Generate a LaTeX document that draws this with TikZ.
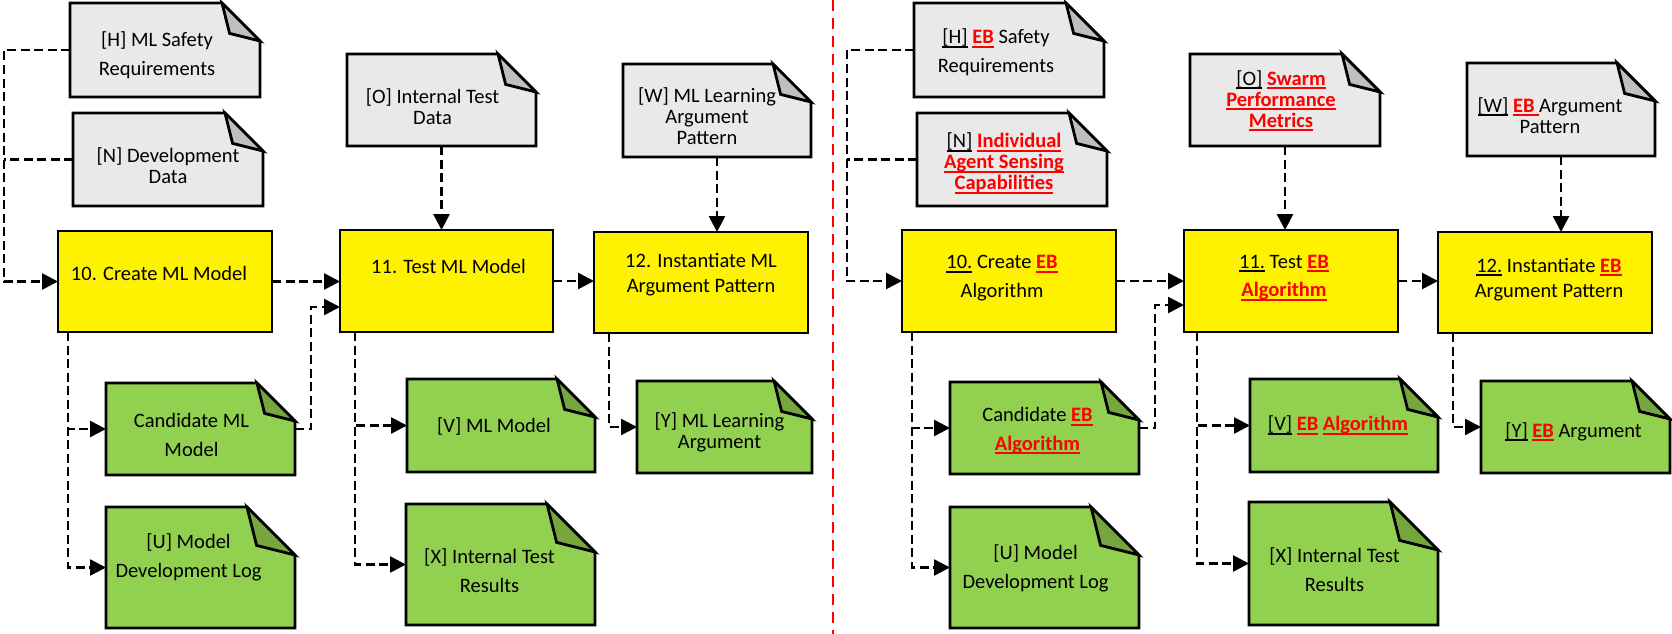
\documentclass[tikz,border=0pt]{standalone}
\usepackage{fontspec}
\setmainfont{Carlito}
\usepackage{xcolor}
\usepackage{tikz}
\usetikzlibrary{arrows.meta}
\definecolor{docgray}{RGB}{233,233,233}
\definecolor{foldgray}{RGB}{191,191,191}
\definecolor{outgreen}{RGB}{146,208,80}
\definecolor{foldgreen}{RGB}{118,167,62}

\pgfdeclarelayer{background}
\pgfsetlayers{background,main}

% underline with a thicker bar, and the red bold EB marks
\newcommand{\ulbox}[1]{\setbox0\hbox{#1}\rlap{\vrule height -2pt depth 4pt width \wd0}\box0\relax}
\newcommand{\ebred}[1]{{\color{red}\bfseries\ulbox{#1}}}

% outline of a document with a folded corner, drawn behind node #1
\newcommand{\docshape}[4]{%
  \begin{pgfonlayer}{background}
    \filldraw[fill=#2, line width=2.8pt] (#1.south west) -- (#1.north west)
      -- ([xshift=-#4]#1.north east) -- ([yshift=-#4]#1.north east)
      -- (#1.south east) -- cycle;
    \filldraw[fill=#3, line width=2.8pt] ([xshift=-#4]#1.north east)
      -- ([xshift=-0.8*#4, yshift=-0.8*#4]#1.north east)
      -- ([yshift=-#4]#1.north east) -- cycle;
  \end{pgfonlayer}}

\begin{document}
\begin{tikzpicture}[
    x=1pt, y=-1pt,
    wh/.style 2 args={minimum width=#1, minimum height=#2},
    doc/.style={rectangle, inner sep=0pt, outer sep=0pt},
    proc/.style={rectangle, draw, fill=yellow, line width=2.8pt,
        inner sep=0pt, outer sep=0pt},
    txt/.style={align=center, inner sep=0pt, font=\fontsize{20.5}{25}\selectfont},
    tight/.style={font=\fontsize{20.5}{21}\selectfont},
    loose/.style={font=\fontsize{20.5}{28.5}\selectfont},
    flow/.style={line width=2.6pt, dash pattern=on 9pt off 4.5pt,
        -{Triangle[length=16pt, width=16pt]}},
    feed/.style={line width=2.6pt, dash pattern=on 9pt off 4.5pt},
    divider/.style={red, line width=2.6pt, dash pattern=on 11pt off 7pt}
]
    \useasboundingbox (0,0) rectangle (1672,634);

    % ---------------- left: ML model ----------------
    % Inputs
    \node[doc, wh={190pt}{94pt}] (H1) at (165,50) {};
    \node[doc, wh={190pt}{93pt}] (N1) at (168,159.5) {};
    \node[doc, wh={189pt}{92pt}] (O1) at (441.5,100) {};
    \node[doc, wh={188pt}{93pt}] (W1) at (717,110.5) {};
    \node[txt, loose] (H1t) at ([xshift=-8pt, yshift=-5pt]H1.center) {[H] ML Safety\\Requirements};
    \node[txt, tight] (N1t) at ([yshift=-6pt]N1.center) {[N] Development\\Data};
    \node[txt, tight] (O1t) at ([xshift=-9pt, yshift=-7pt]O1.center) {[O] Internal Test\\Data};
    \node[txt, tight] (W1t) at ([xshift=-10pt, yshift=-6pt]W1.center) {[W] ML Learning\\Argument\\Pattern};

    % Activities
    \node[proc, wh={214pt}{101pt}] (C1) at (165,281.5) {};
    \node[proc, wh={213pt}{102pt}] (T1) at (446.5,281) {};
    \node[proc, wh={214pt}{101pt}] (I1) at (701,282.5) {};
    \node[txt] (C1t) at ([xshift=-6pt, yshift=8pt]C1.center) {10. Create ML Model};
    \node[txt] (T1t) at ([xshift=2pt, yshift=15pt]T1.center) {11. Test ML Model};
    \node[txt] (I1t) at ([yshift=8pt]I1.center) {12. Instantiate ML\\Argument Pattern};

    % Outputs
    \node[doc, wh={189pt}{92pt}] (Cand1) at (200.5,429) {};
    \node[doc, wh={189pt}{121pt}] (U1) at (200.5,567.5) {};
    \node[doc, wh={188pt}{93pt}] (V1) at (501,425.5) {};
    \node[doc, wh={189pt}{121pt}] (X1) at (500.5,564.5) {};
    \node[doc, wh={175pt}{92pt}] (Y1) at (724.5,427) {};
    \node[txt, loose] (Cand1t) at ([xshift=-9pt, yshift=-6pt]Cand1.center) {Candidate ML\\Model};
    \node[txt, loose] (U1t) at ([xshift=-12pt, yshift=10pt]U1.center) {[U] Model\\Development Log};
    \node[txt] (V1t) at ([xshift=-7pt, yshift=-1pt]V1.center) {[V] ML Model};
    \node[txt, loose] (X1t) at ([xshift=-11pt, yshift=-6pt]X1.center) {[X] Internal Test\\Results};
    \node[txt, tight] (Y1t) at ([xshift=-5pt, yshift=-5pt]Y1.center) {[Y] ML Learning\\Argument};

    \docshape{H1}{docgray}{foldgray}{38pt}
    \docshape{N1}{docgray}{foldgray}{38pt}
    \docshape{O1}{docgray}{foldgray}{38pt}
    \docshape{W1}{docgray}{foldgray}{38pt}
    \docshape{Cand1}{outgreen}{foldgreen}{38pt}
    \docshape{U1}{outgreen}{foldgreen}{48pt}
    \docshape{V1}{outgreen}{foldgreen}{38pt}
    \docshape{X1}{outgreen}{foldgreen}{48pt}
    \docshape{Y1}{outgreen}{foldgreen}{38pt}

    % Links
    \coordinate (busL) at (4,0);
    \draw[flow] (H1.west) -- (H1.west -| busL) |- (C1.west);
    \draw[feed] (N1.west) -- (N1.west -| busL);
    \draw[flow] (C1.east) -- (C1.east -| T1.west);
    \draw[flow] (T1.east) -- (T1.east -| I1.west);
    \draw[flow] (O1.south) -- (O1.south |- T1.north);
    \draw[flow] (W1.south) -- (W1.south |- I1.north);
    \draw[flow] ([xshift=10pt]C1.south west) |- (Cand1.west);
    \draw[flow] ([xshift=10pt]C1.south west) |- (U1.west);
    \draw[flow] (Cand1.east) -- ++(16,0) |- ([yshift=-26pt]T1.west);
    \draw[flow] ([xshift=15pt]T1.south west) |- (V1.west);
    \draw[flow] ([xshift=15pt]T1.south west) |- (X1.west);
    \draw[flow] ([xshift=15pt]I1.south west) |- (Y1.west);

    % ---------------- divider ----------------
    \draw[divider] (833,0) -- (833,634);

    % ---------------- right: EB algorithm ----------------
    % Inputs
    \node[doc, wh={190pt}{94pt}] (H2) at (1009,50) {};
    \node[doc, wh={190pt}{93pt}] (N2) at (1012,159.5) {};
    \node[doc, wh={190pt}{92pt}] (O2) at (1285,100) {};
    \node[doc, wh={188pt}{93pt}] (W2) at (1561,109.5) {};
    \node[txt, loose] (H2t) at ([xshift=-13pt, yshift=-2pt]H2.center) {\ulbox{[H]} \ebred{EB} Safety\\Requirements};
    \node[txt, tight] (N2t) at ([xshift=-8pt, yshift=-4pt]N2.center) {\ulbox{[N]} \ebred{Individual}\\\ebred{Agent Sensing}\\\ebred{Capabilities}};
    \node[txt, tight] (O2t) at ([xshift=-4pt, yshift=-1pt]O2.center) {\ulbox{[O]} \ebred{Swarm}\\\ebred{Performance}\\\ebred{Metrics}};
    \node[txt, tight] (W2t) at ([xshift=-11pt, yshift=-6pt]W2.center) {\ulbox{[W]} \ebred{EB\ }Argument\\Pattern};

    % Activities
    \node[proc, wh={214pt}{102pt}] (C2) at (1009,281) {};
    \node[proc, wh={214pt}{102pt}] (T2) at (1291,281) {};
    \node[proc, wh={214pt}{101pt}] (I2) at (1545,282.5) {};
    \node[txt, loose] (C2t) at ([xshift=-7pt, yshift=3pt]C2.center) {\ulbox{10.} Create \ebred{EB}\\Algorithm};
    \node[txt, loose] (T2t) at ([xshift=-7pt, yshift=3pt]T2.center) {\ulbox{11.} Test \ebred{EB}\\\ebred{Algorithm}};
    \node[txt] (I2t) at ([xshift=4pt, yshift=3pt]I2.center) {\ulbox{12.} Instantiate \ebred{EB}\\Argument Pattern};

    % Outputs
    \node[doc, wh={189pt}{92pt}] (Cand2) at (1044.5,428) {};
    \node[doc, wh={189pt}{121pt}] (U2) at (1044.5,567.5) {};
    \node[doc, wh={188pt}{93pt}] (V2) at (1344,425.5) {};
    \node[doc, wh={189pt}{123pt}] (X2) at (1343.5,563.5) {};
    \node[doc, wh={189pt}{92pt}] (Y2) at (1575.5,427) {};
    \node[txt, loose] (Cand2t) at ([xshift=-7pt, yshift=-3pt]Cand2.center) {Candidate \ebred{EB}\\\ebred{Algorithm}};
    \node[txt, loose] (U2t) at ([xshift=-9pt, yshift=-1pt]U2.center) {[U] Model\\Development Log};
    \node[txt] (V2t) at ([xshift=-6pt]V2.center) {\ulbox{[V]} \ebred{EB} \ebred{Algorithm}};
    \node[txt, loose] (X2t) at ([xshift=-9pt, yshift=-6pt]X2.center) {[X] Internal Test\\Results};
    \node[txt] (Y2t) at ([xshift=-2pt, yshift=-5pt]Y2.center) {\ulbox{[Y]} \ebred{EB} Argument};

    \docshape{H2}{docgray}{foldgray}{38pt}
    \docshape{N2}{docgray}{foldgray}{38pt}
    \docshape{O2}{docgray}{foldgray}{38pt}
    \docshape{W2}{docgray}{foldgray}{38pt}
    \docshape{Cand2}{outgreen}{foldgreen}{38pt}
    \docshape{U2}{outgreen}{foldgreen}{48pt}
    \docshape{V2}{outgreen}{foldgreen}{38pt}
    \docshape{X2}{outgreen}{foldgreen}{48pt}
    \docshape{Y2}{outgreen}{foldgreen}{38pt}

    % Links
    \coordinate (busR) at (847,0);
    \draw[flow] (H2.west) -- (H2.west -| busR) |- (C2.west);
    \draw[feed] (N2.west) -- (N2.west -| busR);
    \draw[flow] (C2.east) -- (C2.east -| T2.west);
    \draw[flow] (T2.east) -- (T2.east -| I2.west);
    \draw[flow] (O2.south) -- (O2.south |- T2.north);
    \draw[flow] (W2.south) -- (W2.south |- I2.north);
    \draw[flow] ([xshift=10pt]C2.south west) |- (Cand2.west);
    \draw[flow] ([xshift=10pt]C2.south west) |- (U2.west);
    \draw[flow] (Cand2.east) -- ++(16,0) |- ([yshift=-24pt]T2.west);
    \draw[flow] ([xshift=13pt]T2.south west) |- (V2.west);
    \draw[flow] ([xshift=13pt]T2.south west) |- (X2.west);
    \draw[flow] ([xshift=15pt]I2.south west) |- (Y2.west);
\end{tikzpicture}
\end{document}
